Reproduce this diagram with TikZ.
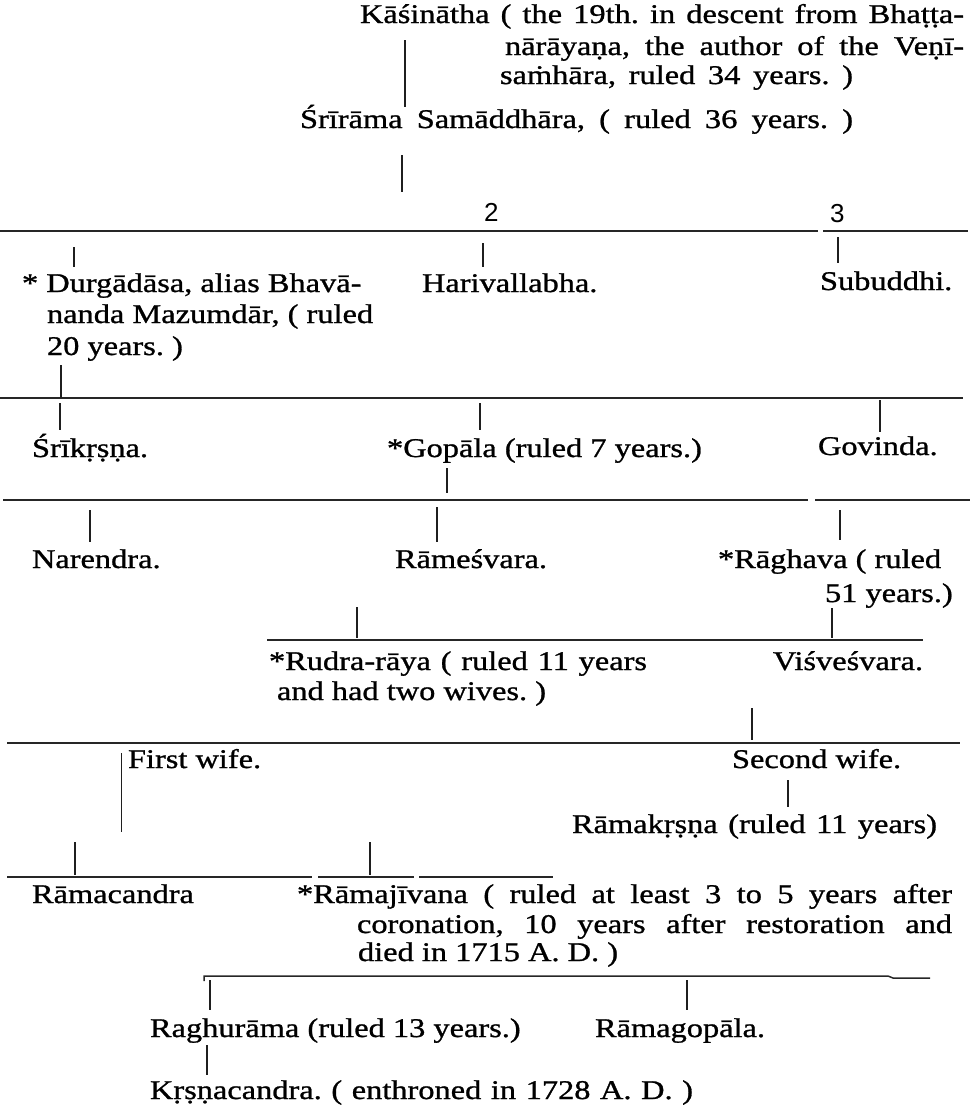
\documentclass[tikz,border=0pt]{standalone}
\usepackage{fontspec}
\setmainfont[FakeStretch=1.2,FakeBold=1.0]{Liberation Serif}
\newfontfamily\digitfont{Liberation Sans}
\newcommand{\mkvert}[4]{\coordinate (#1a) at (#2,#3); \coordinate (#1b) at (#2,#4); \draw[link] (#1a) -- (#1b);}
\newcommand{\J}[2]{\makebox[#1pt][s]{#2}}
\frenchspacing
\begin{document}
\begin{tikzpicture}[x=1pt,y=-1pt,
  every node/.style={inner sep=0pt, outer sep=0pt, anchor=base west, font=\fontsize{27}{31}\selectfont\frenchspacing},
  link/.style={line width=1.9pt, black!88},
  thinlink/.style={line width=1.0pt, black!88},
  bar/.style={line width=1.5pt, black!85},
  num/.style={font=\digitfont\fontsize{26}{26}\selectfont}]
\useasboundingbox (0,0) rectangle (979,1109);

% ---------- text ----------
\node (kas1) at (360,23) {\J{604}{Kāśinātha ( the 19th. in descent from Bhaṭṭa-}};
\node (kas2) at (505,55) {\J{459}{nārāyaṇa, the author of the Veṇī-}};
\node (kas3) at (500,84) {\J{353}{saṁhāra, ruled 34 years. )}};
\node (sri) at (300,128) {\J{553}{Śrīrāma Samāddhāra, ( ruled 36 years. )}};
\node[num] (two) at (484,221) {2};
\node[num] (three) at (830,222) {3};

\node (dur1) at (22,292) {* Durgādāsa, alias Bhavā-};
\node (dur2) at (47,323) {nanda Mazumdār, ( ruled};
\node (dur3) at (47,355) {20 years. )};
\node (har) at (422,292) {Harivallabha.};
\node (sub) at (820,290) {Subuddhi.};

\node (srk) at (32,457) {Śrīkṛṣṇa.};
\node (gop) at (387,457) {*Gopāla (ruled 7 years.)};
\node (gov) at (818,455) {Govinda.};

\node (nar) at (32,568) {Narendra.};
\node (rme) at (395,568) {Rāmeśvara.};
\node (rag1) at (718,568) {*Rāghava ( ruled};
\node (rag2) at (825,602) {51 years.)};

\node (rud1) at (269,670) {\J{378}{*Rudra-rāya ( ruled 11 years}};
\node (rud2) at (277,700) {and had two wives. )};
\node (vis) at (773,670) {Viśveśvara.};

\node (fw) at (128,768) {First wife.};
\node (sw) at (732,768) {Second wife.};
\node (rmk) at (572,833) {\J{365}{Rāmakṛṣṇa (ruled 11 years)}};

\node (rmc) at (32,903) {Rāmacandra};
\node (rmj1) at (297,903) {\J{655}{*Rāmajīvana ( ruled at least 3 to 5 years after}};
\node (rmj2) at (357,933) {\J{595}{coronation, 10 years after restoration and}};
\node (rmj3) at (358,961) {died in 1715 A. D. )};

\node (rgh) at (150,1037) {Raghurāma (ruled 13 years.)};
\node (rgp) at (595,1037) {Rāmagopāla.};
\node (krs) at (150,1099) {\J{543}{Kṛṣṇacandra. ( enthroned in 1728 A. D. )}};

% ---------- horizontal bars ----------
\coordinate (h1a) at (0,231);   \coordinate (h1g) at (818,231);
\coordinate (h1h) at (823,231); \coordinate (h1b) at (968,231);
\draw[bar] (h1a) -- (h1g) (h1h) -- (h1b);
\coordinate (h2a) at (0,398);   \coordinate (h2b) at (963,398);
\draw[bar] (h2a) -- (h2b);
\coordinate (h3a) at (3,500);   \coordinate (h3g) at (808,500);
\coordinate (h3h) at (815,500); \coordinate (h3b) at (970,500);
\draw[bar] (h3a) -- (h3g) (h3h) -- (h3b);
\coordinate (h4a) at (267,640); \coordinate (h4b) at (923,640);
\draw[bar] (h4a) -- (h4b);
\coordinate (h5a) at (7,743);   \coordinate (h5b) at (960,743);
\draw[bar] (h5a) -- (h5b);
\coordinate (h6a) at (7,877);   \coordinate (h6g) at (312,877);
\coordinate (h6h) at (318,877); \coordinate (h6i) at (414,877);
\coordinate (h6j) at (419,877); \coordinate (h6b) at (553,877);
\draw[bar] (h6a) -- (h6g) (h6h) -- (h6i) (h6j) -- (h6b);
\coordinate (h7s) at (204,981); \coordinate (h7a) at (204,976);
\coordinate (h7g) at (888,976); \coordinate (h7h) at (893,978);
\coordinate (h7b) at (930,978);
\draw[bar] (h7s) -- (h7a) -- (h7g) -- (h7h) -- (h7b);

% ---------- vertical connectors ----------
\mkvert{v1}{405}{40}{107}
\mkvert{v2}{402}{155}{192}
\mkvert{v3}{74}{247}{267}
\mkvert{v4}{483}{243}{267}
\mkvert{v5}{838}{237}{263}
\mkvert{v6}{61}{365}{398}
\mkvert{v7}{60}{403}{430}
\mkvert{v8}{480}{403}{430}
\mkvert{v9}{880}{400}{432}
\mkvert{v10}{447}{468}{493}
\mkvert{v11}{90}{510}{542}
\mkvert{v12}{437}{507}{542}
\mkvert{v13}{840}{510}{540}
\mkvert{v14}{357}{607}{638}
\mkvert{v15}{832}{608}{638}
\mkvert{v16}{752}{708}{740}
\coordinate (fwa) at (121,753); \coordinate (fwb) at (121,832);
\draw[thinlink] (fwa) -- (fwb);
\mkvert{v17}{788}{780}{807}
\mkvert{v18}{75}{842}{875}
\mkvert{v19}{370}{842}{875}
\mkvert{v20}{210}{980}{1010}
\mkvert{v21}{687}{980}{1010}
\mkvert{v22}{207}{1045}{1075}
\end{tikzpicture}
\end{document}
